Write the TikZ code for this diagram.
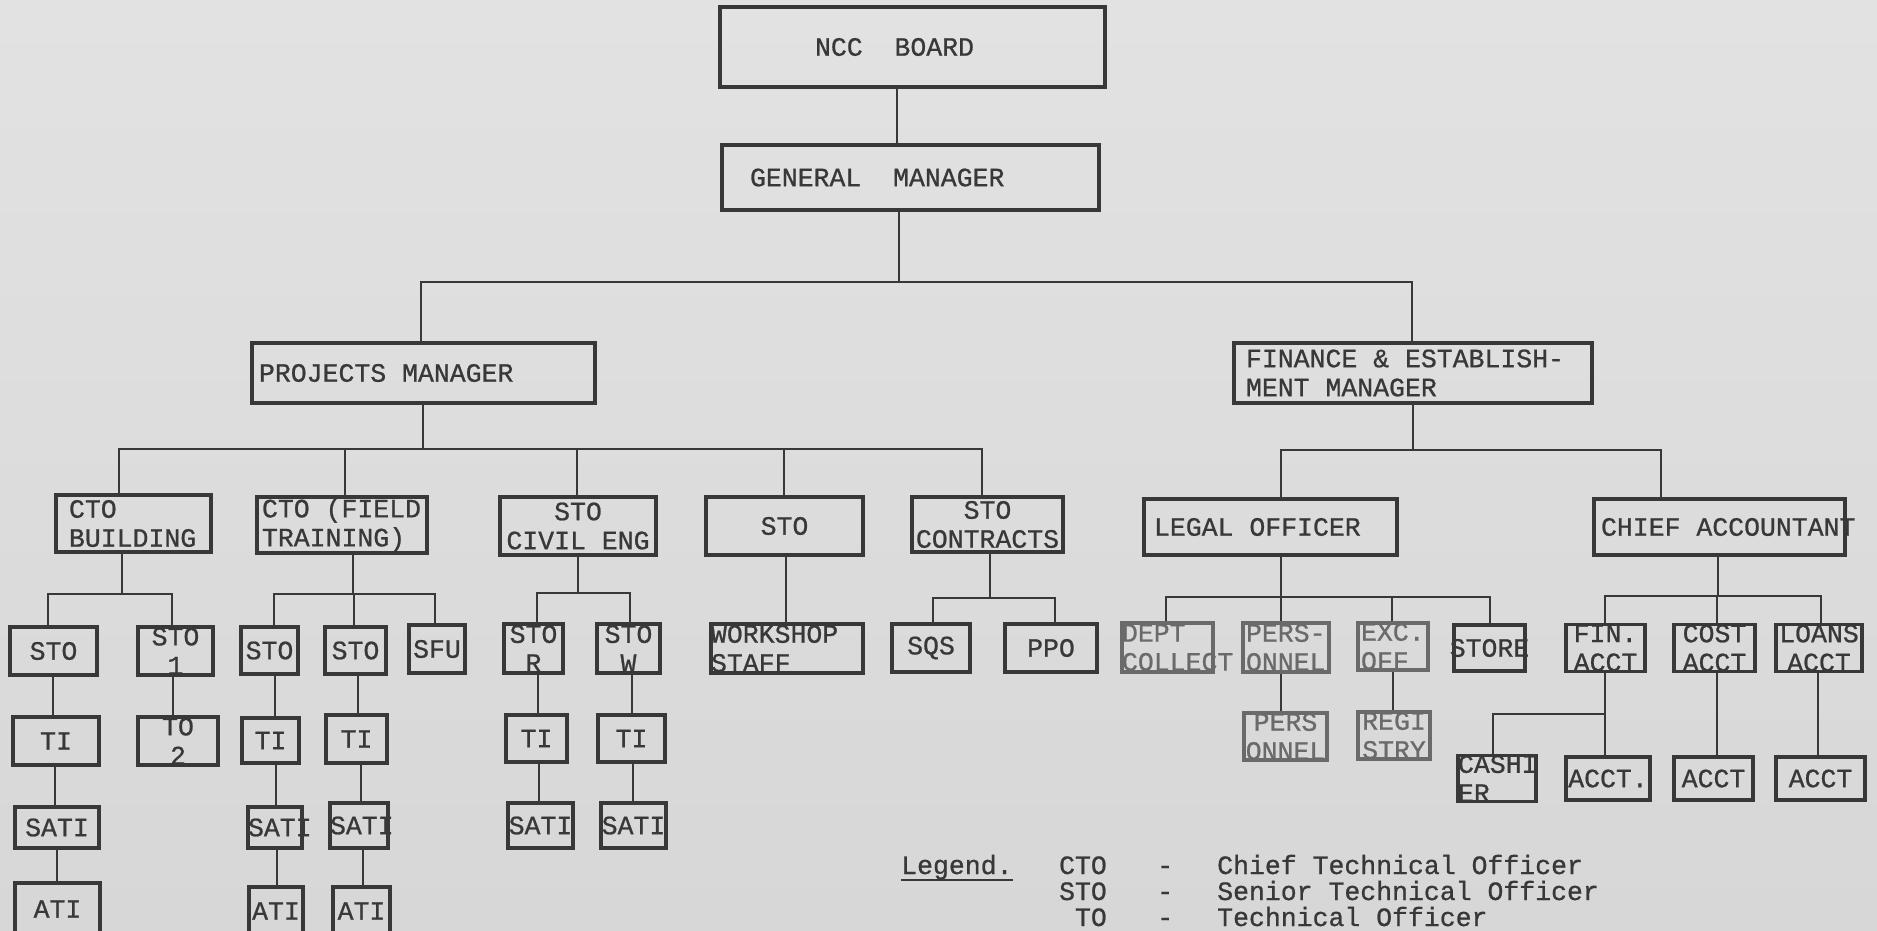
\documentclass[tikz,border=0pt]{standalone}
\usepackage{fontspec}
\setmainfont{Liberation Mono}[FakeBold=0.8]
\definecolor{PaperTop}{HTML}{E2E2E2}
\definecolor{PaperLow}{HTML}{D7D7D7}
\definecolor{Ink}{HTML}{383838}
\definecolor{FadedInk}{HTML}{6A6A6A}
\newcommand\chartfont{\fontsize{26.5pt}{29pt}\selectfont}

\begin{document}
\begin{tikzpicture}[x=1pt, y=-1pt,
  every node/.style={font=\chartfont, text=Ink},
  orgbox/.style={draw=Ink, line width=3.2pt, inner xsep=0pt, inner ysep=0pt, align=flush center},
  orgboxl/.style={orgbox, align=flush left},
  sz/.style 2 args={text width=#1pt, minimum height=#2pt},
  fadedbox/.style={draw=FadedInk, text=FadedInk},
  link/.style={draw=Ink, line width=2.7pt},
  legtext/.style={inner sep=0pt}]

\useasboundingbox (0,0) rectangle (1877,930);
\clip (0,0) rectangle (1877,930);
\shade[top color=PaperTop, bottom color=PaperLow] (0,0) rectangle (1877,930);

% top of the chart
\node[orgboxl, sz={195}{80}, inner xsep=95pt] (board) at (912.5,47) {NCC\ \ BOARD};
\node[orgboxl, sz={321}{65}, inner xsep=28pt] (gm) at (910.5,177.5) {GENERAL\ \ MANAGER};
\node[orgboxl, sz={329}{60}, inner xsep=7pt] (pm) at (423.5,373) {PROJECTS MANAGER};
\node[orgboxl, sz={334}{60}, inner xsep=12pt] (fin) at (1413,373) {FINANCE \& ESTABLISH-\\MENT MANAGER};

% projects side
\node[orgboxl, sz={129}{57}, inner xsep=13pt] (cbld) at (133.5,523.5) {CTO\\BUILDING};
\node[orgboxl, sz={160}{56}, inner xsep=5pt] (cft) at (342,525) {CTO (FIELD\\TRAINING)};
\node[orgbox, sz={156}{58}] (sciv) at (578,526) {STO\\CIVIL ENG};
\node[orgbox, sz={157}{58}] (sto) at (784.5,526) {STO};
\node[orgbox, sz={151}{55}] (scon) at (987.5,524.5) {STO\\CONTRACTS};

% finance side
\node[orgboxl, sz={233}{56}, inner xsep=10pt] (legal) at (1270.5,527) {LEGAL OFFICER};
\node[orgboxl, sz={237}{56}, inner xsep=7pt] (chief) at (1719.5,527) {\mbox{CHIEF ACCOUNTANT}};

% under CTO building
\node[orgbox, sz={87}{48}] (bsto) at (53.5,651) {STO};
\node[orgbox, sz={75}{48}] (bsto1) at (175.5,651) {STO\\1};
\node[orgbox, sz={86}{48}] (bti) at (56,741) {TI};
\node[orgbox, sz={80}{48}] (bto2) at (178,741) {TO\\2};
\node[orgbox, sz={84}{41}] (bsati) at (57,827.5) {SATI};
\node[orgbox, sz={85}{52}] (bati) at (57.5,909) {ATI};

% under CTO field training
\node[orgbox, sz={57}{47}] (fsto1) at (269.5,650.5) {STO};
\node[orgbox, sz={61}{47}] (fsto2) at (355.5,650.5) {STO};
\node[orgbox, sz={56}{48}] (fsfu) at (437,649) {SFU};
\node[orgbox, sz={57}{45}] (fti1) at (270.5,740.5) {TI};
\node[orgbox, sz={61}{48}] (fti2) at (356.5,739) {TI};
\node[orgboxl, sz={54}{41}] (fsati1) at (275,827.5) {SATI};
\node[orgboxl, sz={58}{45}] (fsati2) at (359,825.5) {SATI};
\node[orgbox, sz={54}{48}] (fati1) at (276,911) {ATI};
\node[orgbox, sz={57}{48}] (fati2) at (361.5,911) {ATI};

% under STO civil eng
\node[orgbox, sz={59}{49}] (cstor) at (533.5,648.5) {STO\\R};
\node[orgbox, sz={63}{49}] (cstow) at (628.5,648.5) {STO\\W};
\node[orgbox, sz={61}{47}] (cti1) at (536.5,738.5) {TI};
\node[orgbox, sz={67}{47}] (cti2) at (631.5,738.5) {TI};
\node[orgbox, sz={65}{45}] (csati1) at (540.5,825.5) {SATI};
\node[orgbox, sz={65}{45}] (csati2) at (633.5,825.5) {SATI};

% workshop and contracts
\node[orgboxl, sz={152}{49}] (wstaff) at (787,648.5) {WORKSHOP\\STAFF};
\node[orgbox, sz={78}{48}] (sqs) at (931,648) {SQS};
\node[orgbox, sz={92}{48}] (ppo) at (1051,648) {PPO};

% under legal officer
\node[orgboxl, fadedbox, sz={91}{49}] (dept) at (1167.5,647.5) {DEPT\\COLLECT};
\node[orgboxl, fadedbox, sz={80}{49}, inner xsep=3pt] (pers) at (1286,647.5) {PERS-\\ONNEL};
\node[orgboxl, fadedbox, sz={64}{47}, inner xsep=3pt] (exc) at (1393,646.5) {EXC.\\OFF};
\node[orgbox, sz={71}{46}] (store) at (1489.5,648) {\makebox[71pt]{STORE}};
\node[orgbox, fadedbox, sz={83}{47}] (pers2) at (1285.5,736.5) {PERS\\ONNEL};
\node[orgbox, fadedbox, sz={72}{45}] (registry) at (1394,735.5) {REGI\\STRY};

% under chief accountant
\node[orgbox, sz={79}{46}] (finacct) at (1605.5,648) {FIN.\\ACCT};
\node[orgbox, sz={81}{46}] (costacct) at (1714.5,648) {COST\\ACCT};
\node[orgbox, sz={86}{46}] (loansacct) at (1819,648) {LOANS\\ACCT};
\node[orgboxl, sz={78}{43}] (cashier) at (1497,778.5) {CASHI\\ER};
\node[orgbox, sz={84}{43}] (acct1) at (1608,778.5) {ACCT.};
\node[orgbox, sz={79}{43}] (acct2) at (1713.5,778.5) {ACCT};
\node[orgbox, sz={89}{43}] (acct3) at (1820.5,778.5) {ACCT};

% bus junctions
\coordinate (gmbus) at (899,282);
\coordinate (pmbus) at (423,449);
\coordinate (finbus) at (1413,450);
\coordinate (bldbus) at (122,594);
\coordinate (ftbus) at (353,594);
\coordinate (civbus) at (578,593);
\coordinate (conbus) at (990,598);
\coordinate (legbus) at (1281,597);
\coordinate (accbus) at (1718,596);
\coordinate (cashbus) at (1605,714);

\foreach \p/\b in {gm/gmbus, pm/pmbus, fin/finbus, cbld/bldbus, cft/ftbus,
                   sciv/civbus, scon/conbus, legal/legbus, chief/accbus}
  \draw[link] (\p.south -| \b) -- (\b);

\foreach \b/\c/\x in {gmbus/pm/421, gmbus/fin/1412,
    pmbus/cbld/119, pmbus/cft/345, pmbus/sciv/577, pmbus/sto/784, pmbus/scon/982,
    finbus/legal/1281, finbus/chief/1661,
    bldbus/bsto/48, bldbus/bsto1/172,
    ftbus/fsto1/274, ftbus/fsto2/354, ftbus/fsfu/435,
    civbus/cstor/537, civbus/cstow/630,
    conbus/sqs/933, conbus/ppo/1055,
    legbus/dept/1166, legbus/pers/1281, legbus/exc/1392, legbus/store/1490,
    accbus/finacct/1605, accbus/costacct/1717, accbus/loansacct/1821,
    cashbus/cashier/1493}
  \draw[link] (\c.north -| \x,0) |- (\b);

\foreach \a/\c/\x in {board/gm/897,
    bsto/bti/53, bti/bsati/55, bsati/bati/57, bsto1/bto2/173,
    fsto1/fti1/275, fti1/fsati1/276, fsati1/fati1/277,
    fsto2/fti2/358, fti2/fsati2/361, fsati2/fati2/363,
    cstor/cti1/538, cti1/csati1/539, cstow/cti2/632, cti2/csati2/633,
    sto/wstaff/786, pers/pers2/1281, exc/registry/1393,
    finacct/acct1/1605, costacct/acct2/1717, loansacct/acct3/1818}
  \draw[link] (\a.south -| \x,0) -- (\c.north -| \x,0);

% legend
\node[legtext, anchor=base west] (legend) at (901,874) {Legend.};
\draw[draw=Ink, line width=2.4pt] (legend.south west) -- (legend.south east);
\foreach \ab/\full [count=\i] in {CTO/Chief Technical Officer,
    STO/Senior Technical Officer, TO/Technical Officer} {
  \node[legtext, anchor=base east] (abbr\i) at (1107,848+26*\i) {\ab};
  \node[legtext, anchor=base west] (dash\i) at (1157,848+26*\i) {-};
  \node[legtext, anchor=base west] (meaning\i) at (1217,848+26*\i) {\full};
}
\end{tikzpicture}
\end{document}
